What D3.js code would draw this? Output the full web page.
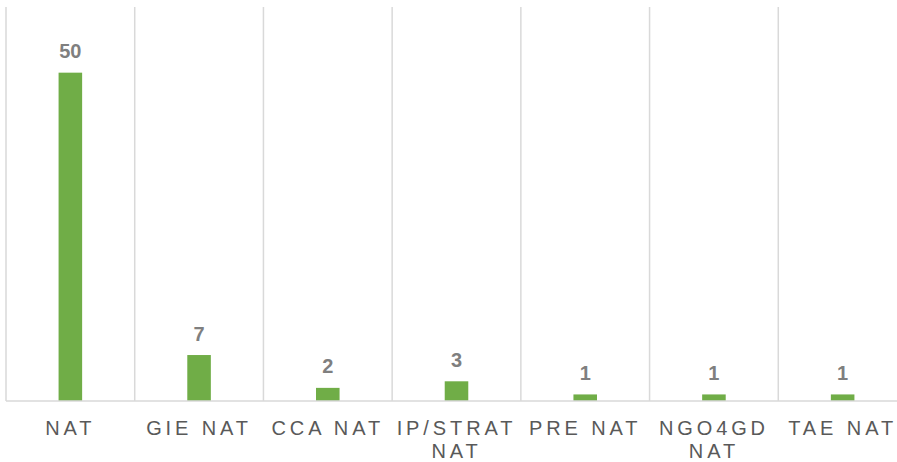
<!DOCTYPE html>
<html>
<head>
<meta charset="utf-8">
<script src="https://cdn.jsdelivr.net/npm/d3@7"></script>
<style>
  html, body { margin: 0; padding: 0; background: #fff; }
  svg { display: block; }
</style>
</head>
<body>
<svg id="chart" width="897" height="462"></svg>
<script>
const categories = ["NAT", "GIE NAT", "CCA NAT", "IP/STRAT NAT", "PRE NAT", "NGO4GD NAT", "TAE NAT"];
const values = [50, 7, 2, 3, 1, 1, 1];
const yDomainMax = 60;

(function() {
const svg = d3.select("#chart");
const plotLeft = 6, plotRight = 907, plotTop = 7, plotBottom = 401;

const x = d3.scaleBand().domain(categories).range([plotLeft, plotRight]).padding(0);
const y = d3.scaleLinear().domain([0, yDomainMax]).range([plotBottom, plotTop]);
const barFrac = 0.183;
const barW = x.bandwidth() * barFrac;

// vertical gridlines at category boundaries
const edges = categories.map(c => x(c)).concat([x(categories[categories.length - 1]) + x.bandwidth()]);
svg.append("g").selectAll("line").data(edges).join("line")
  .attr("x1", d => d).attr("x2", d => d)
  .attr("y1", y(yDomainMax)).attr("y2", y(0))
  .attr("stroke", "#d9d9d9").attr("stroke-width", 1.5);

// bars
svg.append("g").selectAll("rect").data(categories).join("rect")
  .attr("x", c => x(c) + (x.bandwidth() - barW) / 2)
  .attr("width", barW)
  .attr("y", (c, i) => y(values[i]))
  .attr("height", (c, i) => y(0) - y(values[i]))
  .attr("fill", "#70ad47");

// baseline
svg.append("line")
  .attr("x1", plotLeft).attr("x2", 897)
  .attr("y1", y(0)).attr("y2", y(0))
  .attr("stroke", "#d9d9d9").attr("stroke-width", 1.5);

// value labels
svg.append("g").selectAll("text").data(categories).join("text")
  .attr("x", c => x(c) + x.bandwidth() / 2)
  .attr("y", (c, i) => y(values[i]) - 14.5)
  .attr("text-anchor", "middle")
  .attr("font-family", "Liberation Sans, Arial, sans-serif")
  .attr("font-size", 20)
  .attr("font-weight", "bold")
  .attr("fill", "#7f7f7f")
  .text((c, i) => values[i]);

// category labels with wrapping
const ls = 3.9;
const labels = svg.append("g").selectAll("text").data(categories).join("text")
  .attr("x", c => x(c) + x.bandwidth() / 2)
  .attr("y", 435)
  .attr("text-anchor", "middle")
  .attr("font-family", "Liberation Sans, Arial, sans-serif")
  .attr("font-size", 20)
  .attr("letter-spacing", ls)
  .attr("fill", "#595959")
  .text(c => c);

labels.each(function(c) {
  const t = d3.select(this);
  const words = c.split(" ");
  const cx = +t.attr("x");
  t.text(null);
  let line = [];
  let tspan = t.append("tspan").attr("x", cx).attr("dy", 0);
  for (const w of words) {
    line.push(w);
    tspan.text(line.join(" "));
    if (tspan.node().getComputedTextLength() > x.bandwidth() - 2 && line.length > 1) {
      line.pop();
      tspan.text(line.join(" "));
      line = [w];
      tspan = t.append("tspan").attr("x", cx).attr("dy", 23).text(w);
    }
  }
});
})();
</script>
</body>
</html>
